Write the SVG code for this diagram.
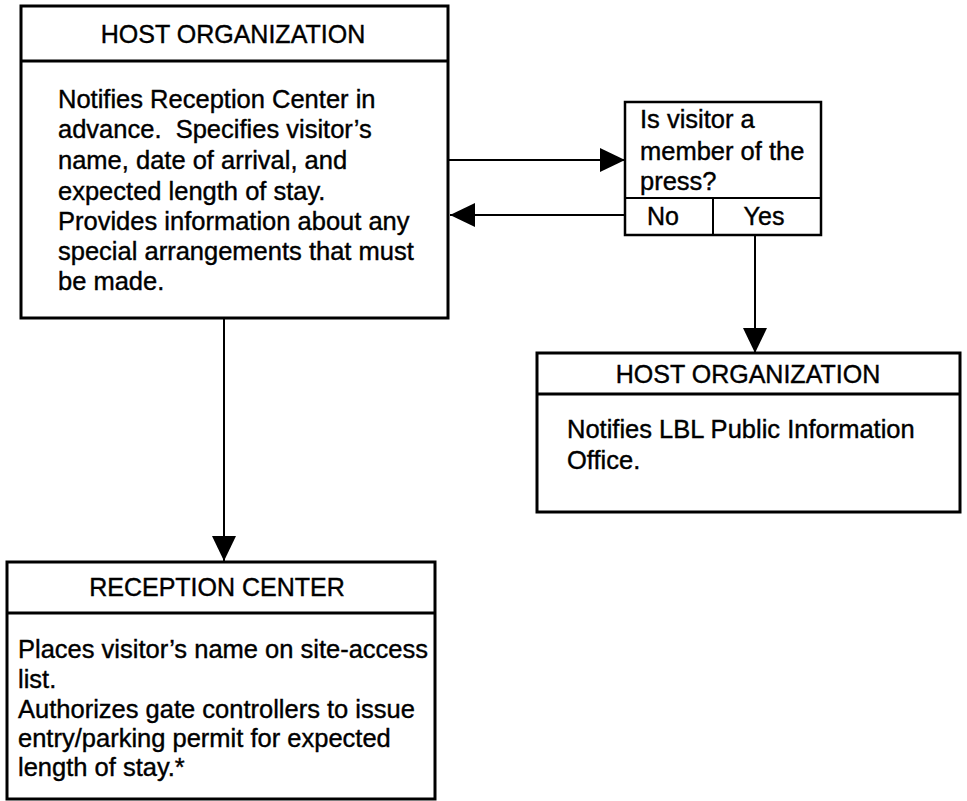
<svg xmlns="http://www.w3.org/2000/svg" width="967" height="801" viewBox="0 0 967 801">
  <style>
    .box { fill: #fff; stroke: #000; stroke-width: 3; }
    .rule { stroke: #000; stroke-width: 3; fill: none; }
    .thin { stroke: #000; stroke-width: 2; fill: none; }
    .hd { font-family: "Liberation Sans", Arial, sans-serif; font-size: 25px; text-anchor: middle; fill: #000; stroke: #000; stroke-width: 0.4; }
    .tx { font-family: "Liberation Sans", Arial, sans-serif; font-size: 25.5px; fill: #000; stroke: #000; stroke-width: 0.4; white-space: pre; }
    .wire { stroke: #000; stroke-width: 2; fill: none; }
  </style>
  <defs>
    <marker id="arrow" markerUnits="userSpaceOnUse" markerWidth="26" markerHeight="26" refX="25" refY="13" orient="auto">
      <path d="M0,1 L25,13 L0,25 Z" fill="#000"/>
    </marker>
  </defs>
  <rect width="967" height="801" fill="#fff"/>

  <!-- connectors -->
  <g id="connectors">
    <line class="wire" x1="449" y1="160" x2="625" y2="160" marker-end="url(#arrow)"/>
    <line class="wire" x1="625" y1="215" x2="450" y2="215" marker-end="url(#arrow)"/>
    <line class="wire" x1="755" y1="235" x2="755" y2="353" marker-end="url(#arrow)"/>
    <line class="wire" x1="224" y1="318" x2="224" y2="561" marker-end="url(#arrow)"/>
  </g>

  <!-- host organization: advance notice -->
  <g id="host-notice">
    <rect class="box" x="21" y="6" width="427" height="312"/>
    <line class="rule" x1="21" y1="61" x2="448" y2="61"/>
    <text class="hd" x="233" y="43">HOST ORGANIZATION</text>
    <text class="tx" x="58" y="108">Notifies Reception Center in</text>
    <text class="tx" x="58" y="138" xml:space="preserve">advance.  Specifies visitor’s</text>
    <text class="tx" x="58" y="169">name, date of arrival, and</text>
    <text class="tx" x="58" y="200">expected length of stay.</text>
    <text class="tx" x="58" y="230">Provides information about any</text>
    <text class="tx" x="58" y="260">special arrangements that must</text>
    <text class="tx" x="58" y="290">be made.</text>
  </g>

  <!-- press decision -->
  <g id="press-decision">
    <rect class="box" x="625" y="102" width="196" height="133" style="stroke-width:2.5"/>
    <line class="thin" x1="625" y1="198" x2="821" y2="198"/>
    <line class="thin" x1="713" y1="198" x2="713" y2="235"/>
    <text class="tx" x="640" y="128">Is visitor a</text>
    <text class="tx" x="640" y="160">member of the</text>
    <text class="tx" x="640" y="190">press?</text>
    <text class="hd" x="663" y="225">No</text>
    <text class="hd" x="764" y="225">Yes</text>
  </g>

  <!-- host organization: public information -->
  <g id="host-press">
    <rect class="box" x="537" y="353" width="423" height="159"/>
    <line class="rule" x1="537" y1="394" x2="960" y2="394"/>
    <text class="hd" x="748" y="383">HOST ORGANIZATION</text>
    <text class="tx" x="567" y="438">Notifies LBL Public Information</text>
    <text class="tx" x="567" y="469">Office.</text>
  </g>

  <!-- reception center -->
  <g id="reception">
    <rect class="box" x="7" y="562" width="428" height="237"/>
    <line class="rule" x1="7" y1="613" x2="435" y2="613"/>
    <text class="hd" x="217" y="596">RECEPTION CENTER</text>
    <text class="tx" x="18" y="658">Places visitor’s name on site-access</text>
    <text class="tx" x="18" y="688">list.</text>
    <text class="tx" x="18" y="718">Authorizes gate controllers to issue</text>
    <text class="tx" x="18" y="747">entry/parking permit for expected</text>
    <text class="tx" x="18" y="776">length of stay.*</text>
  </g>
</svg>
